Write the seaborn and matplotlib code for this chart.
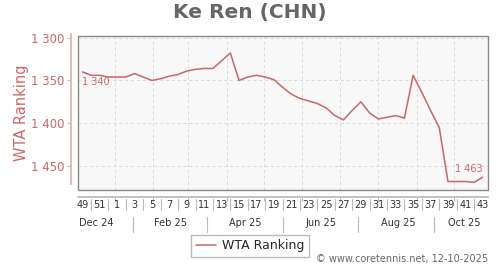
import numpy as np
import pandas as pd
import matplotlib
matplotlib.use("Agg")
import matplotlib.pyplot as plt
import matplotlib.transforms as mtransforms
from matplotlib.patches import Rectangle
import seaborn as sns
from datetime import date

# ---- data ----
weeks = [49, 50, 51, 52] + list(range(1, 44))
ranking = [1340, 1344, 1344, 1346, 1346, 1346, 1342, 1346, 1350, 1348,
           1345, 1343, 1339, 1337, 1336, 1336, 1327, 1318, 1350, 1346,
           1344, 1346, 1349, 1358, 1366, 1371, 1374, 1377, 1382, 1391,
           1396, 1385, 1375, 1388, 1395, 1393, 1391, 1394, 1344, 1364,
           1385, 1405, 1468, 1468, 1468, 1469, 1463]
month_labels = ["Dec 24", "Feb 25", "Apr 25", "Jun 25", "Aug 25", "Oct 25"]
y_ticks = [1300, 1350, 1400, 1450]
title = "Ke Ren (CHN)"
series_name = "WTA Ranking"
footer = "\u00a9 www.coretennis.net, 12-10-2025"

# ---- layout helpers (dates -> week index) ----
start = date(2024, 12, 6)
def widx(d):
    return (d - start).days / 7.0

month_starts = [date(2025, m, 1) for m in range(1, 11)]
sep_dates = [date(2025, 1, 16), date(2025, 3, 16), date(2025, 5, 16),
             date(2025, 7, 16), date(2025, 9, 15)]
label_dates = [date(2024, 12, 17), date(2025, 2, 15), date(2025, 4, 16),
               date(2025, 6, 16), date(2025, 8, 17), date(2025, 10, 9)]

df = pd.DataFrame({"idx": np.arange(len(ranking)), "rank": ranking,
                   "series": series_name})

RED = "#cc6666"
sns.set_theme(style="white")
plt.rcParams["font.family"] = ["DejaVu Sans"]

fig = plt.figure(figsize=(5, 2.7), dpi=100)
ax = fig.add_axes([0.156, 0.296, 0.82, 0.571])
ax.set_facecolor("#f8f8f8")

sns.lineplot(data=df, x="idx", y="rank", hue="series", palette=[RED],
             linewidth=1.1, ax=ax, legend=True)

ax.set_xlim(-0.5, 46.6)
ax.set_ylim(1478, 1298)

# grid
for g in month_starts:
    ax.axvline(widx(g), color="#d8d8d8", lw=0.7, ls=(0, (3, 3)), zorder=0)
for t in y_ticks:
    ax.axhline(t, color="#d8d8d8", lw=0.7, ls=(0, (3, 3)), zorder=0)

# spines
for s in ["top", "right"]:
    ax.spines[s].set_visible(False)
ax.spines["left"].set_position(("outward", 5))
ax.spines["left"].set_color("#e0b0b0")
ax.spines["left"].set_bounds(1471, 1296)
ax.spines["bottom"].set_position(("outward", 5))
ax.spines["bottom"].set_color("#bbbbbb")
ax.add_patch(Rectangle((0, 0), 1, 1, transform=ax.transAxes, fill=False,
                       edgecolor="#888888", lw=1.0, zorder=5, clip_on=False))

# y ticks
ax.set_yticks(y_ticks)
ax.set_yticklabels([f"{v:,}".replace(",", " ") for v in y_ticks],
                   color=RED, fontsize=8.5)
ax.tick_params(axis="y", length=3, color="#e0b0b0", width=0.8, pad=2, left=True)
ax.set_ylabel(series_name, color=RED, fontsize=10.5, labelpad=1)

# x ticks: month boundaries as small ticks, week labels as text
ax.set_xticks([widx(g) for g in month_starts])
ax.set_xticklabels([])
ax.tick_params(axis="x", length=3, color="#bbbbbb", width=0.8, bottom=True)
ax.set_xlabel("")

trans = mtransforms.blended_transform_factory(ax.transData, ax.transAxes)
for i, w in enumerate(weeks):
    if i % 2 == 0:
        ax.text(i, -0.065, str(w), transform=trans, ha="center", va="top",
                fontsize=7, color="#333333", clip_on=False)
    else:
        ax.plot([i, i], [-0.06, -0.13], transform=trans, color="#bbbbbb",
                lw=0.8, clip_on=False)
for d, lab in zip(label_dates, month_labels):
    ax.text(widx(d), -0.18, lab, transform=trans, ha="center", va="top",
            fontsize=7, color="#333333", clip_on=False)
for d in sep_dates:
    ax.plot([widx(d), widx(d)], [-0.175, -0.27], transform=trans,
            color="#bbbbbb", lw=0.8, clip_on=False)

# annotations
ax.annotate(f"{ranking[0]:,}".replace(",", " "), (0, ranking[0]),
            xytext=(0, -4), textcoords="offset points", ha="left", va="top",
            fontsize=7, color=RED)
ax.annotate(f"{ranking[-1]:,}".replace(",", " "), (len(ranking) - 1, ranking[-1]),
            xytext=(0, 2), textcoords="offset points", ha="right", va="bottom",
            fontsize=7, color=RED)

# title
fig.text(0.5, 0.953, title, ha="center", va="center", fontsize=14.5,
         fontweight="bold", color="#666666")

# legend
h, l = ax.get_legend_handles_labels()
ax.legend_.remove()
fig.legend(h, l, loc="center", bbox_to_anchor=(0.5, 0.09), fontsize=9,
           frameon=True, fancybox=False, edgecolor="#aaaaaa",
           handlelength=1.6, handletextpad=0.5, borderpad=0.35)

fig.text(0.976, 0.022, footer, ha="right", va="bottom", fontsize=7,
         color="#666666")

fig.savefig("out.png", dpi=100)
